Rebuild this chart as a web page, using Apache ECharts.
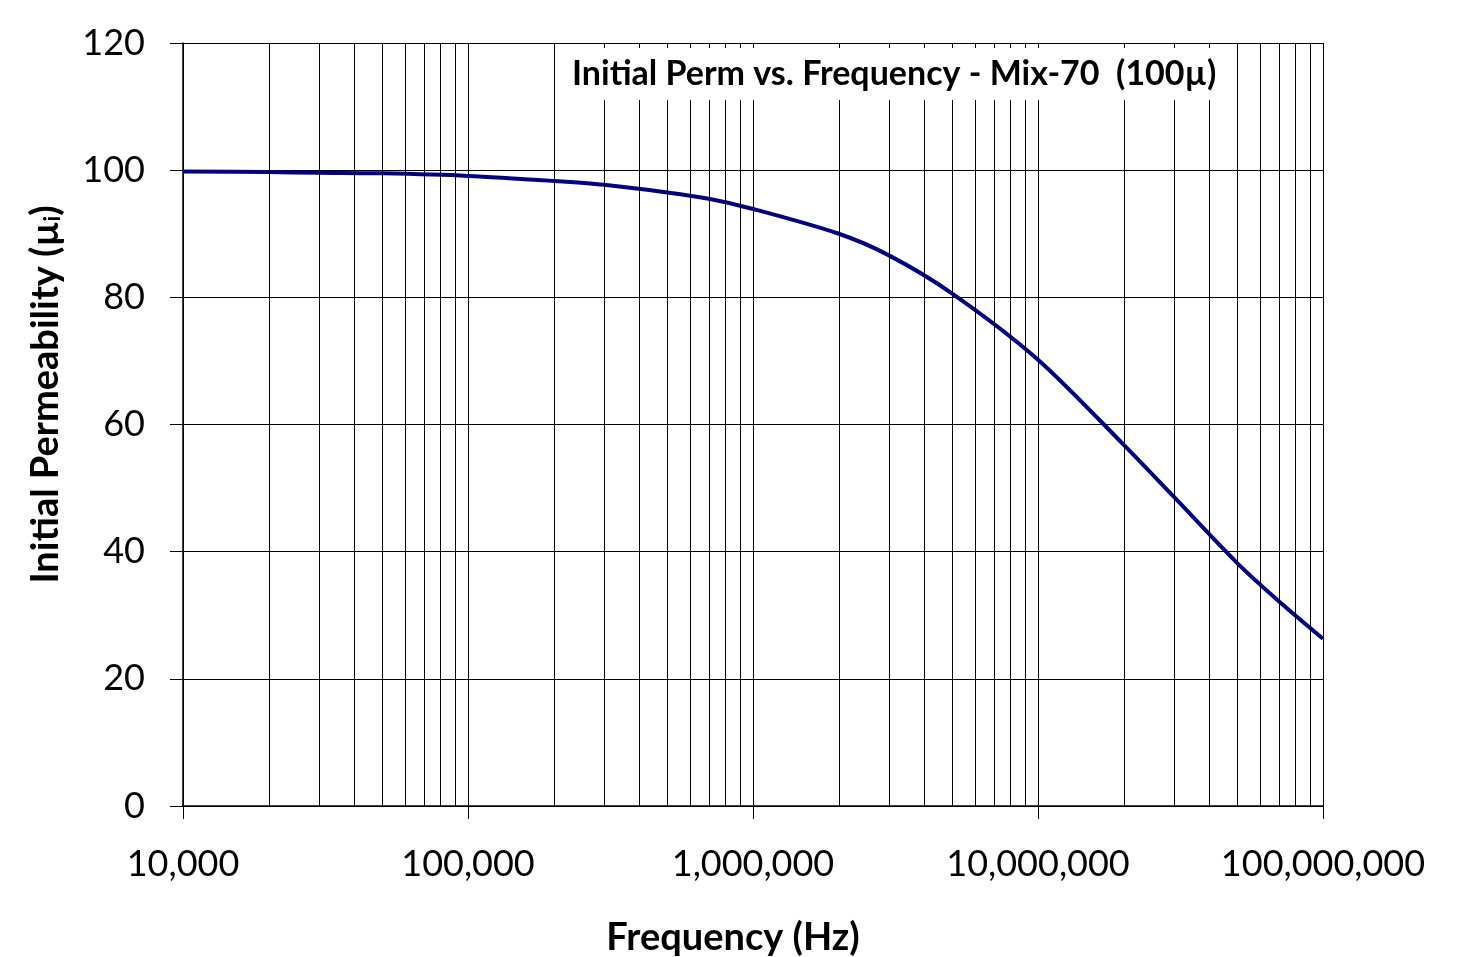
<!DOCTYPE html>
<html>
<head>
<meta charset="utf-8">
<script src="https://cdn.jsdelivr.net/npm/echarts@6/dist/echarts.min.js"></script>
<style>
html,body{margin:0;padding:0;background:#fff;}
#chart{width:1462px;height:957px;}
</style>
</head>
<body>
<div id="chart"></div>
<script>
// Frequency (Hz) and initial permeability values
const frequency = [1e4, 2e4, 3e4, 5e4, 1e5, 2e5, 3e5, 5e5, 7e5, 1e6, 2e6, 3e6, 5e6, 1e7, 2e7, 3e7, 5e7, 7e7, 1e8];
const permeability = [99.8, 99.7, 99.6, 99.5, 99.1, 98.3, 97.7, 96.5, 95.5, 93.9, 90.0, 86.6, 80.6, 70.2, 56.8, 48.6, 38.2, 32.2, 26.3];
// minor vertical gridlines (2..9 per decade)
const minorGrid = [];
[1e4, 1e5, 1e6, 1e7].forEach(function (d) { for (let k = 2; k <= 9; k++) minorGrid.push(k * d); });
const yTicks = { min: 0, max: 120, interval: 20 };
const xRange = { min: 1e4, max: 1e8 };

const FONT = 'Lato';
const chart = echarts.init(document.getElementById('chart'), null, { renderer: 'canvas' });
chart.setOption({
  animation: false,
  backgroundColor: '#fff',
  title: {
    text: 'Initial Perm vs. Frequency - Mix-70  (100µ)',
    left: 556, top: 48,
    padding: [9, 16, 9, 16],
    backgroundColor: '#fff',
    textStyle: { fontFamily: FONT, fontWeight: 'bold', fontSize: 34, color: '#000' }
  },
  grid: { left: 183, right: 139, top: 43, bottom: 151, containLabel: false, outerBoundsMode: 'none' },
  xAxis: {
    type: 'log', logBase: 10, min: xRange.min, max: xRange.max,
    name: 'Frequency (Hz)', nameLocation: 'middle', nameGap: 113,
    nameTextStyle: { fontFamily: FONT, fontWeight: 'bold', fontSize: 38, color: '#000', padding: [0, 40, 0, 0] },
    axisLine: { show: true, lineStyle: { color: '#000', width: 1.5 } },
    axisTick: { show: true, inside: false, length: 13, lineStyle: { color: '#000', width: 1 } },
    axisLabel: {
      margin: 40, fontFamily: FONT, fontSize: 36, color: '#000',
      formatter: function (v) { return Math.round(v).toLocaleString('en-US'); }
    },
    splitLine: { show: true, lineStyle: { color: '#000', width: 1 } },
    minorTick: { show: false }, minorSplitLine: { show: false }
  },
  yAxis: {
    type: 'value', min: yTicks.min, max: yTicks.max, interval: yTicks.interval,
    name: '{a|Initial Permeability (µ}{s|i}{a|)}', nameLocation: 'middle', nameGap: 118,
    nameTextStyle: {
      padding: [0, 0, 0, 60],
      rich: {
        a: { fontFamily: FONT, fontWeight: 'bold', fontSize: 38, color: '#000' },
        s: { fontFamily: FONT, fontWeight: 'bold', fontSize: 22, color: '#000', padding: [14, 0, 0, 0] }
      }
    },
    axisLine: { show: true, lineStyle: { color: '#000', width: 1.5 } },
    axisTick: { show: true, inside: false, length: 13, lineStyle: { color: '#000', width: 1 } },
    axisLabel: { margin: 38, fontFamily: FONT, fontSize: 36, color: '#000' },
    splitLine: { show: true, lineStyle: { color: '#000', width: 1 } }
  },
  series: [
    {
      type: 'line', data: [], z: 1, silent: true,
      markLine: {
        silent: true, symbol: 'none', animation: false,
        label: { show: false },
        lineStyle: { color: '#000', width: 1, type: 'solid' },
        emphasis: { disabled: true },
        data: minorGrid.map(function (v) { return { xAxis: v }; })
      }
    },
    {
      type: 'line', z: 3,
      data: frequency.map(function (f, i) { return [f, permeability[i]]; }),
      smooth: 0.3, showSymbol: false, symbol: 'none',
      lineStyle: { color: '#000080', width: 4 }
    }
  ]
});
</script>
</body>
</html>
